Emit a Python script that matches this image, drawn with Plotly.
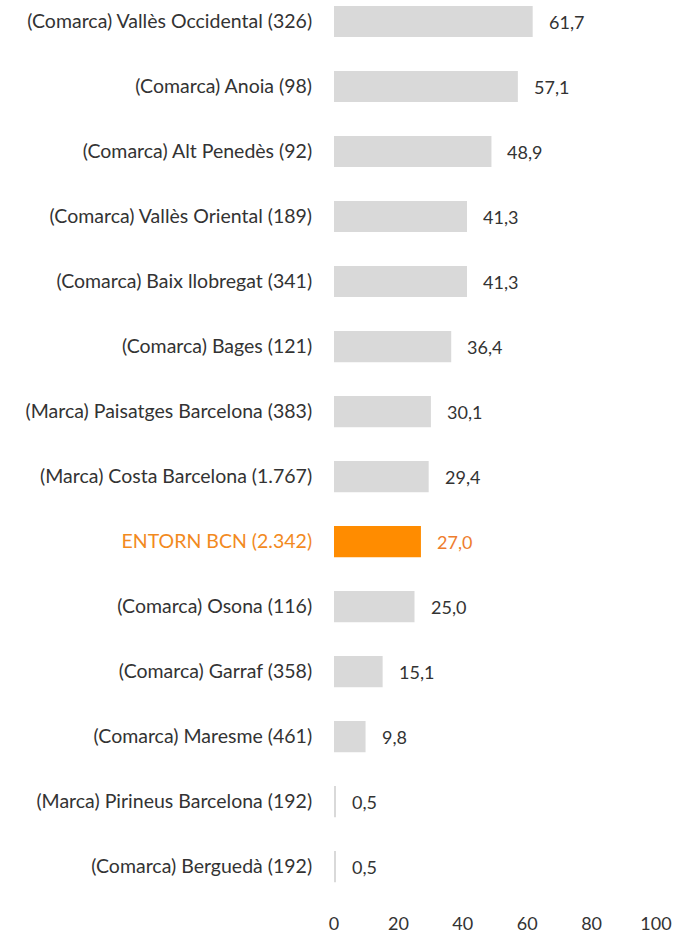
import plotly.graph_objects as go

categories = [
    "(Comarca) Vallès Occidental (326)",
    "(Comarca) Anoia (98)",
    "(Comarca) Alt Penedès (92)",
    "(Comarca) Vallès Oriental (189)",
    "(Comarca) Baix llobregat (341)",
    "(Comarca) Bages (121)",
    "(Marca) Paisatges Barcelona (383)",
    "(Marca) Costa Barcelona (1.767)",
    "ENTORN BCN (2.342)",
    "(Comarca) Osona (116)",
    "(Comarca) Garraf (358)",
    "(Comarca) Maresme (461)",
    "(Marca) Pirineus Barcelona (192)",
    "(Comarca) Berguedà (192)",
]
values = [61.7, 57.1, 48.9, 41.3, 41.3, 36.4, 30.1, 29.4, 27.0, 25.0, 15.1, 9.8, 0.5, 0.5]
highlight = "ENTORN BCN (2.342)"
x_ticks = [0, 20, 40, 60, 80, 100]

GRAY = "#D9D9D9"
ORANGE = "#FF8C00"
ORANGE_TXT = "#F28A1E"
ORANGE_VAL = "#EE7D2E"
TXT = "#333333"
FONT = "Lato"

colors = [ORANGE if c == highlight else GRAY for c in categories]
ticktext = [
    f"<span style='color:{ORANGE_TXT}'>{c}</span>" if c == highlight else c
    for c in categories
]

fig = go.Figure(
    go.Bar(
        x=values,
        y=categories,
        orientation="h",
        marker=dict(color=colors, line=dict(width=0)),
        width=0.48,
        hoverinfo="skip",
    )
)

for c, v in zip(categories, values):
    fig.add_annotation(
        x=v, y=c, xref="x", yref="y",
        text=f"{v:.1f}".replace(".", ","),
        showarrow=False, xanchor="left", xshift=14,
        font=dict(family=FONT, size=18, color=ORANGE_VAL if c == highlight else TXT),
    )

fig.update_layout(
    width=680, height=934,
    margin=dict(l=334, r=24, t=0, b=28, autoexpand=False),
    paper_bgcolor="white", plot_bgcolor="white",
    showlegend=False,
    font=dict(family=FONT, size=18, color=TXT),
)
fig.update_xaxes(
    range=[0, 100], tickvals=x_ticks, ticktext=[str(t) for t in x_ticks],
    showgrid=False, zeroline=False, showline=False, automargin=False,
    ticks="outside", ticklen=1, tickcolor="rgba(0,0,0,0)",
    tickfont=dict(family=FONT, size=18, color=TXT),
)
fig.update_yaxes(
    type="category", categoryorder="array", categoryarray=categories,
    tickvals=categories, ticktext=ticktext,
    range=[13.607, -0.331],
    showgrid=False, zeroline=False, showline=False, automargin=False,
    ticks="outside", ticklen=17, tickcolor="rgba(0,0,0,0)",
    tickfont=dict(family=FONT, size=19.5, color=TXT),
)

fig.write_html(
    "out.html",
    config={"displayModeBar": False},
    post_script="document.body.style.margin='0';document.body.style.overflow='hidden';",
)
